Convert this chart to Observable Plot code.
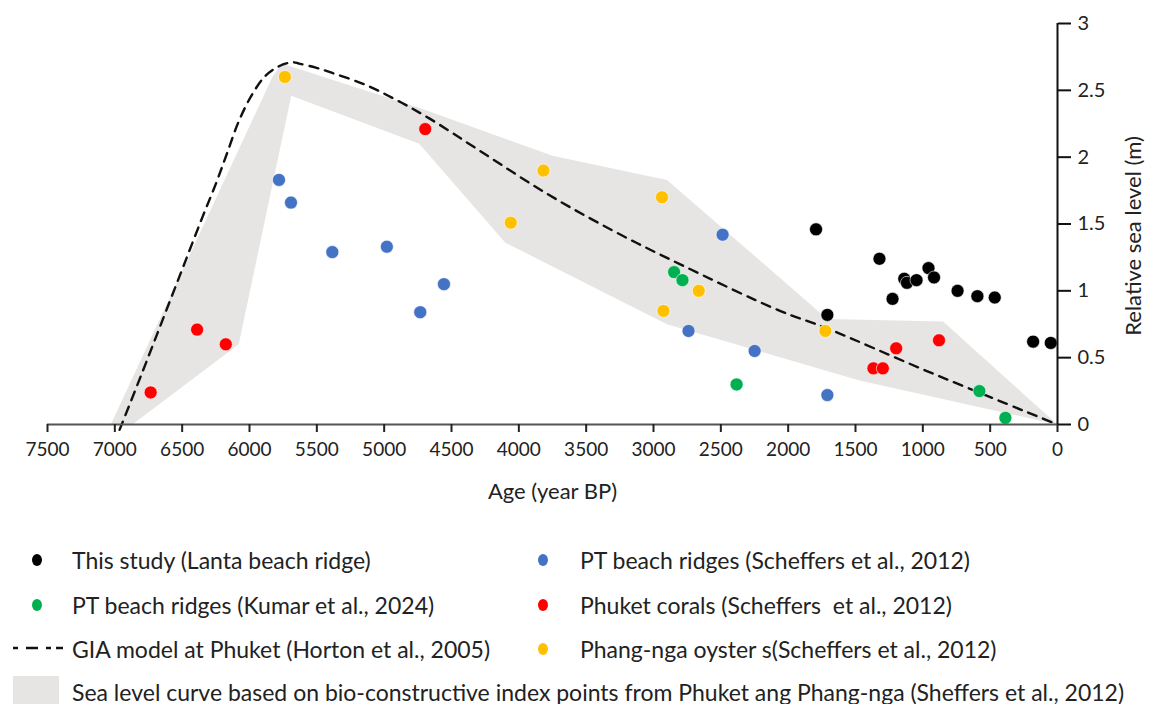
<!DOCTYPE html>
<html>
<head>
<meta charset="utf-8">
<script src="https://cdn.jsdelivr.net/npm/d3@7"></script>
<script src="https://cdn.jsdelivr.net/npm/@observablehq/plot@0.6"></script>
<style>
  html, body { margin: 0; padding: 0; background: #fff; }
  body { width: 1149px; height: 704px; position: relative; overflow: hidden; font-family: Lato, "Open Sans", sans-serif; }
  #chart svg { display: block; }
  #legend { position: absolute; left: 0; top: 0; width: 1149px; height: 704px; pointer-events: none; }
  .lg { position: absolute; font-size: 23px; color: #222; white-space: pre; line-height: 1; }
</style>
</head>
<body>
<div id="chart"></div>
<div id="legend"></div>
<script>
// ---- data (age in years BP, relative sea level in m) ----
const seriesNames = [
  "This study (Lanta beach ridge)",
  "PT beach ridges (Kumar et al., 2024)",
  "PT beach ridges (Scheffers et al., 2012)",
  "Phuket corals (Scheffers  et al., 2012)",
  "Phang-nga oyster s(Scheffers et al., 2012)"
];
const seriesColors = ["#000000", "#00b050", "#4472c4", "#ff0000", "#ffc000"];

const lantaAge = [1793, 1709, 1322, 1225, 1138, 1118, 1047, 958, 917, 742, 595, 466, 181, 50];
const lantaRsl = [1.46, 0.82, 1.24, 0.94, 1.09, 1.06, 1.08, 1.17, 1.10, 1.00, 0.96, 0.95, 0.62, 0.61];

const kumarAge = [2847, 2785, 2383, 580, 387];
const kumarRsl = [1.14, 1.08, 0.30, 0.25, 0.05];

const ptScheffersAge = [5781, 5692, 5385, 4980, 4556, 4732, 2487, 2740, 2249, 1709];
const ptScheffersRsl = [1.83, 1.66, 1.29, 1.33, 1.05, 0.84, 1.42, 0.70, 0.55, 0.22];

const coralAge = [6734, 6389, 6176, 4695, 1367, 1297, 1198, 880];
const coralRsl = [0.24, 0.71, 0.60, 2.21, 0.42, 0.42, 0.57, 0.63];

const oysterAge = [5737, 3817, 4060, 2937, 2664, 2926, 1724];
const oysterRsl = [2.60, 1.90, 1.51, 1.70, 1.00, 0.85, 0.70];

// GIA model at Phuket (Horton et al., 2005)
const giaAge = [6965, 6800, 6650, 6500, 6350, 6250, 6170, 6079, 5980, 5880, 5781, 5680, 5632, 5508, 5385, 5136, 4913, 4665, 4293, 3797, 3301, 2805, 2061, 1713, 970, 0];
const giaRsl = [-0.04, 0.38, 0.77, 1.16, 1.55, 1.80, 2.02, 2.27, 2.47, 2.61, 2.68, 2.71, 2.70, 2.67, 2.63, 2.54, 2.43, 2.29, 2.05, 1.73, 1.45, 1.20, 0.85, 0.72, 0.40, 0.00];

// Sea level envelope (Scheffers et al., 2012) – polygon outline
const bandAge = [7030, 5830, 5760, 4740, 3750, 2900, 1710, 850, 0, 1470, 2900, 4100, 4740, 5690, 6080, 6870];
const bandRsl = [0.00, 2.60, 2.70, 2.37, 2.01, 1.83, 0.79, 0.77, 0.00, 0.33, 0.75, 1.36, 2.10, 2.46, 0.60, 0.00];

const xTicks = [7500, 7000, 6500, 6000, 5500, 5000, 4500, 4000, 3500, 3000, 2500, 2000, 1500, 1000, 500, 0];
const yTicks = [0, 0.5, 1, 1.5, 2, 2.5, 3];

const legendGia = "GIA model at Phuket (Horton et al., 2005)";
const legendBand = "Sea level curve based on bio-constructive index points from Phuket ang Phang-nga (Sheffers et al., 2012)";

// ---- build tables ----
const pairs = [
  [lantaAge, lantaRsl], [kumarAge, kumarRsl], [ptScheffersAge, ptScheffersRsl],
  [coralAge, coralRsl], [oysterAge, oysterRsl]
];
const dots = [];
pairs.forEach(([a, r], i) => a.forEach((age, j) => dots.push({series: seriesNames[i], age, rsl: r[j]})));
const gia = giaAge.map((age, i) => ({age, rsl: giaRsl[i]}));
const band = bandAge.map((age, i) => ({age, rsl: bandRsl[i]}));

const font = "Lato, 'Open Sans', sans-serif";

const chart = Plot.plot({
  width: 1149,
  height: 510,
  marginLeft: 47,
  marginRight: 92,
  marginTop: 23,
  marginBottom: 86,
  style: {fontFamily: font, background: "#fff", color: "#222"},
  x: {domain: [7500, 0]},
  y: {domain: [0, 3]},
  color: {domain: seriesNames, range: seriesColors},
  marks: [
    Plot.line(band, {x: "age", y: "rsl", fill: "#e6e5e3", stroke: "none", curve: "linear-closed"}),
    Plot.line(gia, {x: "age", y: "rsl", stroke: "#111", strokeWidth: 2.4, strokeDasharray: "9,7", curve: "catmull-rom"}),
    Plot.dot(dots, {x: "age", y: "rsl", fill: "series", r: 6.5, stroke: "#fff", strokeWidth: 0.6}),
    Plot.ruleY([0], {x1: 7500, x2: 0, stroke: "#555", strokeWidth: 2}),
    Plot.ruleX([0], {y1: 0, y2: 3, stroke: "#111", strokeWidth: 2}),
    Plot.axisX({ticks: xTicks, tickFormat: d => String(d), tickSize: 8, tickPadding: 10, fontSize: 19, stroke: "#222", strokeWidth: 2,
      label: "Age (year BP)", labelAnchor: "center", labelArrow: "none", labelOffset: 74}),
    Plot.axisY({anchor: "right", ticks: yTicks, tickFormat: d => String(d), tickSize: 13, tickPadding: 7, fontSize: 20, stroke: "#111", strokeWidth: 2,
      label: "Relative sea level (m)", labelAnchor: "center", labelArrow: "none", labelOffset: 83})
  ]
});
document.getElementById("chart").appendChild(chart);
// larger axis titles
chart.querySelectorAll("g[aria-label='x-axis label'] text").forEach(t => t.setAttribute("font-size", "22"));
chart.querySelectorAll("g[aria-label='y-axis label'] text").forEach(t => { t.setAttribute("font-size", "22"); t.setAttribute("dx", "-12"); });

// ---- legend ----
const lg = document.getElementById("legend");
function addText(x, y, s) {
  const d = document.createElement("div");
  d.className = "lg";
  d.style.left = x + "px";
  d.style.top = (y - 11) + "px";
  d.textContent = s;
  lg.appendChild(d);
}
function addDot(x, y, c) {
  const d = document.createElement("div");
  d.style.cssText = `position:absolute;left:${x - 5}px;top:${y - 6}px;width:10px;height:12px;border-radius:50%;background:${c}`;
  lg.appendChild(d);
}
const legendPos = [
  [37, 72, 560], [37, 72, 605], [543, 580, 560], [543, 580, 605], [543, 580, 649]
];
seriesNames.forEach((s, i) => {
  const [dx, tx, y] = legendPos[i];
  addDot(dx, y, seriesColors[i]);
  addText(tx, y, s);
});
// GIA dashed symbol
const ns = "http://www.w3.org/2000/svg";
const sv = document.createElementNS(ns, "svg");
sv.setAttribute("width", "60"); sv.setAttribute("height", "10");
sv.style.cssText = "position:absolute;left:10px;top:643px";
const ln = document.createElementNS(ns, "line");
ln.setAttribute("x1", "3"); ln.setAttribute("x2", "53"); ln.setAttribute("y1", "5"); ln.setAttribute("y2", "5");
ln.setAttribute("stroke", "#111"); ln.setAttribute("stroke-width", "2.5"); ln.setAttribute("stroke-dasharray", "5,8,12,8,5");
sv.appendChild(ln);
lg.appendChild(sv);
addText(72, 649, legendGia);
// band swatch
const sw = document.createElement("div");
sw.style.cssText = "position:absolute;left:13px;top:676px;width:46px;height:30px;background:#e6e5e3";
lg.appendChild(sw);
addText(72, 692, legendBand);
</script>
</body>
</html>
